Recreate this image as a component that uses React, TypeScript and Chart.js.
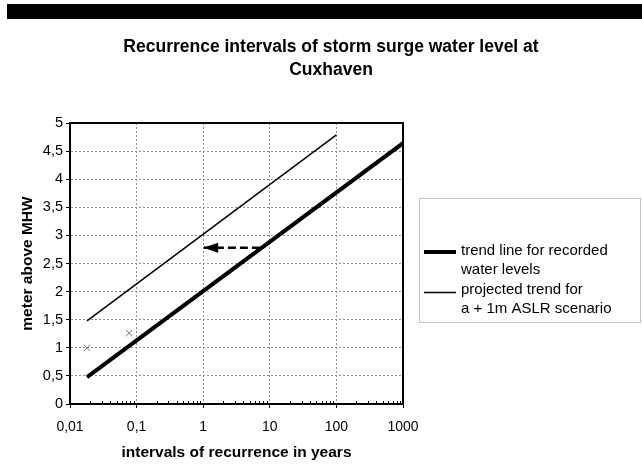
import React, { useEffect, useRef } from "react";
import { Chart, registerables } from "chart.js";

Chart.register(...registerables);

const titleLines = ["Recurrence intervals of storm surge water level at", "Cuxhaven"];
const xTitle = "intervals of recurrence in years";
const yTitle = "meter above MHW";

const xTickValues = [0.01, 0.1, 1, 10, 100, 1000];
const xTickLabels = ["0,01", "0,1", "1", "10", "100", "1000"];
const minorMultipliers = [2, 3, 4, 5, 6, 7, 8, 9];

// trend line for recorded water levels
const recordedX = [0.018, 1000];
const recordedY = [0.48, 4.64];
// projected trend for a + 1m ASLR scenario
const projectedX = [0.018, 100];
const projectedY = [1.48, 4.79];
// observed points (crosses)
const obsX = [0.018, 0.077];
const obsY = [1.0, 1.26];
// arrow (dashed) from recorded to projected
const arrowX = [7.1, 1];
const arrowY = [2.78, 2.78];

const legendLabels = [
  ["trend line for recorded", "water levels"],
  ["projected trend for", "a + 1m ASLR scenario"],
];

const FONT = "'Liberation Sans', Arial, Helvetica, sans-serif";

const toXY = (xs: number[], ys: number[]) => xs.map((x, i) => ({ x, y: ys[i] }));

const decorPlugin = {
  id: "decor",
  beforeDraw(chart: any) {
    const ctx = chart.ctx;
    ctx.save();
    ctx.fillStyle = "#fff";
    ctx.fillRect(0, 0, chart.width, chart.height);
    ctx.fillStyle = "#000";
    ctx.fillRect(7, 4, chart.width - 7, 15);
    // title
    ctx.font = `bold 17.5px ${FONT}`;
    ctx.textAlign = "center";
    ctx.textBaseline = "middle";
    ctx.fillText(titleLines[0], 331, 47);
    ctx.fillText(titleLines[1], 331, 70);
    ctx.restore();
  },
  afterDatasetsDraw(chart: any) {
    const ctx = chart.ctx;
    const xs = chart.scales.x;
    const ys = chart.scales.y;
    const area = chart.chartArea;
    ctx.save();
    // minor ticks on x axis
    ctx.strokeStyle = "#000";
    ctx.lineWidth = 1;
    ctx.beginPath();
    for (let d = 0; d < xTickValues.length - 1; d++) {
      for (const m of minorMultipliers) {
        const px = Math.round(xs.getPixelForValue(xTickValues[d] * m)) + 0.5;
        ctx.moveTo(px, area.bottom);
        ctx.lineTo(px, area.bottom - 3);
      }
    }
    ctx.stroke();
    // frame
    ctx.lineWidth = 2;
    ctx.strokeRect(area.left, area.top, area.right - area.left, area.bottom - area.top);
    // arrow head
    const tipX = xs.getPixelForValue(arrowX[1]);
    const tipY = ys.getPixelForValue(arrowY[1]);
    ctx.fillStyle = "#000";
    ctx.beginPath();
    ctx.moveTo(tipX, tipY);
    ctx.lineTo(tipX + 15, tipY - 5);
    ctx.lineTo(tipX + 15, tipY + 5);
    ctx.closePath();
    ctx.fill();
    ctx.restore();
  },
  afterDraw(chart: any) {
    const ctx = chart.ctx;
    ctx.save();
    // legend box
    ctx.strokeStyle = "#888";
    ctx.lineWidth = 1;
    ctx.setLineDash([1, 1]);
    ctx.strokeRect(419.5, 198.5, 221, 124);
    ctx.setLineDash([]);
    ctx.strokeStyle = "#000";
    const ds = chart.data.datasets;
    const rows = [
      { ds: ds[0], y: 251, ly: 252 },
      { ds: ds[1], y: 290, ly: 292.5 },
    ];
    ctx.font = `15px ${FONT}`;
    ctx.fillStyle = "#000";
    ctx.textAlign = "left";
    ctx.textBaseline = "middle";
    rows.forEach((r, i) => {
      ctx.lineWidth = r.ds.borderWidth;
      ctx.beginPath();
      ctx.moveTo(424, r.ly);
      ctx.lineTo(456, r.ly);
      ctx.stroke();
      ctx.fillText(legendLabels[i][0], 461, r.y);
      ctx.fillText(legendLabels[i][1], 461, r.y + 19);
    });
    ctx.restore();
  },
};

export default function App() {
  const ref = useRef<HTMLCanvasElement | null>(null);
  useEffect(() => {
    document.body.style.margin = "0";
    const canvas = ref.current!;
    const gridColor = "#8c8c8c";
    const chart = new Chart(canvas, {
      type: "scatter",
      data: {
        datasets: [
          {
            label: legendLabels[0].join(" "),
            data: toXY(recordedX, recordedY),
            showLine: true,
            borderColor: "#000",
            borderWidth: 4,
            pointRadius: 0,
            borderCapStyle: "butt",
          },
          {
            label: legendLabels[1].join(" "),
            data: toXY(projectedX, projectedY),
            showLine: true,
            borderColor: "#000",
            borderWidth: 1.5,
            pointRadius: 0,
          },
          {
            label: "observed",
            data: toXY(obsX, obsY),
            showLine: false,
            pointStyle: "crossRot",
            pointRadius: 4.5,
            borderColor: "#777",
            backgroundColor: "#777",
            borderWidth: 1,
          },
          {
            label: "arrow",
            data: toXY(arrowX, arrowY),
            showLine: true,
            borderColor: "#000",
            borderWidth: 2.5,
            borderDash: [8, 4],
            pointRadius: 0,
          },
        ],
      } as any,
      options: {
        responsive: false,
        animation: false,
        devicePixelRatio: 1,
        layout: { padding: { top: 123, right: 239, left: 0, bottom: 0 } },
        plugins: {
          legend: { display: false },
          title: { display: false },
          tooltip: { enabled: false },
        },
        scales: {
          x: {
            type: "logarithmic",
            min: 0.01,
            max: 1000,
            afterBuildTicks: (scale: any) => {
              scale.ticks = xTickValues.map((v) => ({ value: v }));
            },
            afterFit: (scale: any) => {
              scale.height = 60;
            },
            ticks: {
              autoSkip: false,
              maxRotation: 0,
              padding: 11,
              color: "#000",
              font: { family: FONT, size: 14 },
              callback: (_v: any, i: number) => xTickLabels[i],
            },
            grid: { color: gridColor, lineWidth: 1, drawTicks: true, tickLength: 4, tickColor: "#000" },
            border: { display: true, color: "#000", width: 2, dash: [2, 2] },
            title: {
              display: true,
              text: xTitle,
              color: "#000",
              font: { family: FONT, size: 15.5, weight: "bold" },
              padding: { top: 0, bottom: 1.5 },
            },
          },
          y: {
            type: "linear",
            min: 0,
            max: 5,
            afterFit: (scale: any) => {
              scale.width = 70;
            },
            ticks: {
              stepSize: 0.5,
              padding: 3,
              color: "#000",
              font: { family: FONT, size: 14.5 },
              callback: (v: any) => String(v).replace(".", ","),
            },
            grid: { color: gridColor, lineWidth: 1, drawTicks: true, tickLength: 4, tickColor: "#000" },
            border: { display: true, color: "#000", width: 2, dash: [2, 2] },
            title: {
              display: true,
              text: yTitle,
              color: "#000",
              font: { family: FONT, size: 15.5, weight: "bold" },
              padding: { top: 18.5, bottom: 0 },
            },
          },
        },
      } as any,
      plugins: [decorPlugin],
    });
    return () => chart.destroy();
  }, []);
  return (
    <div style={{ position: "fixed", left: 0, top: 0 }}>
      <canvas ref={ref} width={642} height={464} />
    </div>
  );
}
